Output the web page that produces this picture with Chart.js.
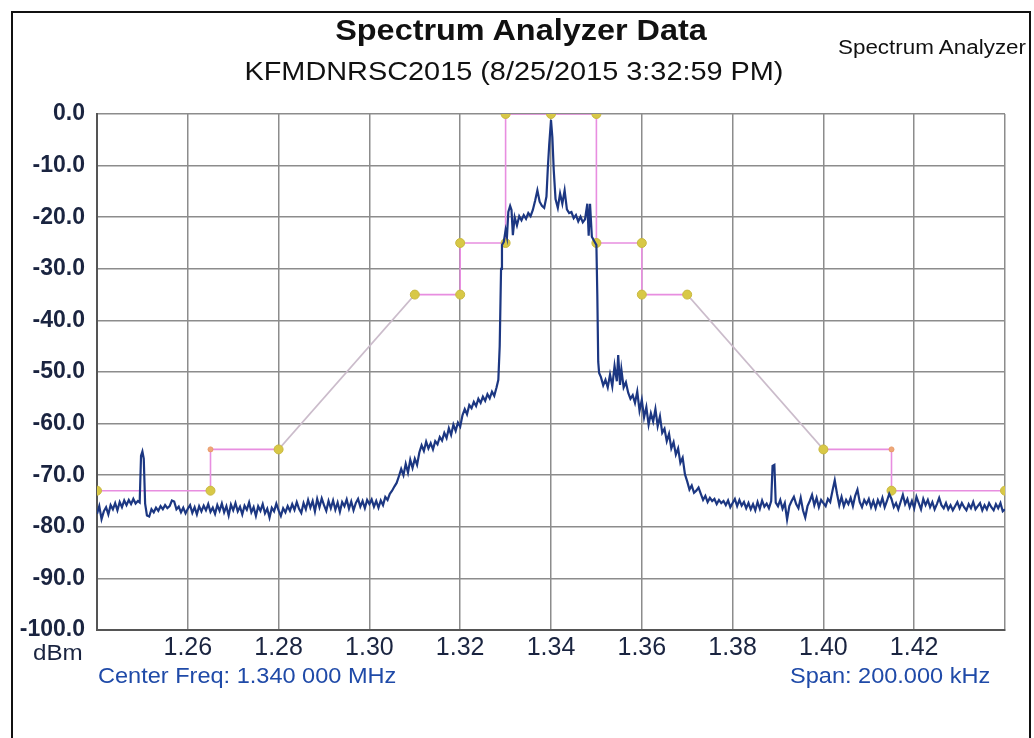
<!DOCTYPE html>
<html>
<head>
<meta charset="utf-8">
<script src="https://cdn.jsdelivr.net/npm/chart.js@4.4.1/dist/chart.umd.min.js"></script>
<style>
  html, body { margin: 0; padding: 0; background: #fff; }
  body { width: 1034px; height: 738px; position: relative; overflow: hidden; font-family: "Liberation Sans", Arial, sans-serif; }
  #frame { position: absolute; left: 11px; top: 11px; width: 1016px; height: 760px; border: 2px solid #111; }
  #wrap { position: absolute; left: 0; top: 0; width: 1034px; height: 738px; }
  .txt { position: absolute; white-space: nowrap; }
  #title { left: 0; width: 1042px; top: 13px; text-align: center; font-size: 30px; font-weight: bold; color: #111; transform: scaleX(1.08); }
  #subtitle { left: 0; width: 1028px; top: 56px; text-align: center; font-size: 26px; color: #111; transform: scaleX(1.11); }
  #corner { left: 838px; top: 36px; font-size: 20px; color: #111; transform: scaleX(1.12); transform-origin: left center; }
  #unit { left: 33px; top: 640px; font-size: 22px; color: #1a2440; transform: scaleX(1.1); transform-origin: left center; }
  #center { left: 98px; top: 663px; font-size: 22px; color: #1f4aa8; transform: scaleX(1.07); transform-origin: left center; }
  #span { left: 790px; top: 663px; font-size: 22px; color: #1f4aa8; transform: scaleX(1.07); transform-origin: left center; }
</style>
</head>
<body>
<div id="frame"></div>
<div id="wrap"><canvas id="chart-spectrum" width="1034" height="738"></canvas></div>
<div class="txt" id="title">Spectrum Analyzer Data</div>
<div class="txt" id="subtitle">KFMDNRSC2015 (8/25/2015 3:32:59 PM)</div>
<div class="txt" id="corner">Spectrum Analyzer</div>
<div class="txt" id="unit">dBm</div>
<div class="txt" id="center">Center Freq: 1.340 000 MHz</div>
<div class="txt" id="span">Span: 200.000 kHz</div>
<script>
// Eixos
const xTickValues = [1.24, 1.26, 1.28, 1.30, 1.32, 1.34, 1.36, 1.38, 1.40, 1.42, 1.44];
const xTickLabels = ['', '1.26', '1.28', '1.30', '1.32', '1.34', '1.36', '1.38', '1.40', '1.42', ''];
const yTickValues = [0, -10, -20, -30, -40, -50, -60, -70, -80, -90, -100];
const yTickLabels = ['0.0', '-10.0', '-20.0', '-30.0', '-40.0', '-50.0', '-60.0', '-70.0', '-80.0', '-90.0', '-100.0'];

// Máscara (limites)
const maskFreq  = [1.24, 1.265, 1.265, 1.28, 1.31, 1.32, 1.32, 1.33, 1.33, 1.34, 1.35, 1.35, 1.36, 1.36, 1.37, 1.40, 1.415, 1.415, 1.44];
const maskLevel = [-73, -73, -65, -65, -35, -35, -25, -25, 0, 0, 0, -25, -25, -35, -35, -65, -65, -73, -73];

// Traço medido (MHz / dBm)
const traceFreq = [
  1.2400, 1.2405, 1.2410, 1.2415, 1.2420, 1.2425, 1.2430, 1.2435, 1.2440, 1.2445,
  1.2450, 1.2455, 1.2460, 1.2465, 1.2470, 1.2475, 1.2480, 1.2485, 1.2490, 1.2494,
  1.2497, 1.2500, 1.2503, 1.2506, 1.2510, 1.2515, 1.2520, 1.2525, 1.2530, 1.2535,
  1.2540, 1.2545, 1.2550, 1.2555, 1.2560, 1.2565, 1.2570, 1.2575, 1.2580, 1.2585,
  1.2590, 1.2595, 1.2600, 1.2605, 1.2610, 1.2615, 1.2620, 1.2625, 1.2630, 1.2635,
  1.2640, 1.2645, 1.2650, 1.2655, 1.2660, 1.2665, 1.2670, 1.2675, 1.2680, 1.2685,
  1.2690, 1.2695, 1.2700, 1.2705, 1.2710, 1.2715, 1.2720, 1.2725, 1.2730, 1.2735,
  1.2740, 1.2745, 1.2750, 1.2755, 1.2760, 1.2765, 1.2770, 1.2775, 1.2780, 1.2785,
  1.2790, 1.2795, 1.2800, 1.2805, 1.2810, 1.2815, 1.2820, 1.2825, 1.2830, 1.2835,
  1.2840, 1.2845, 1.2850, 1.2855, 1.2860, 1.2865, 1.2870, 1.2875, 1.2880, 1.2885,
  1.2890, 1.2895, 1.2900, 1.2905, 1.2910, 1.2915, 1.2920, 1.2925, 1.2930, 1.2935,
  1.2940, 1.2945, 1.2950, 1.2955, 1.2960, 1.2965, 1.2970, 1.2975, 1.2980, 1.2985,
  1.2990, 1.2995, 1.3000, 1.3005, 1.3010, 1.3015, 1.3020, 1.3025, 1.3030, 1.3035,
  1.3040, 1.3045, 1.3050, 1.3055, 1.3060, 1.3065, 1.3070, 1.3075, 1.3080, 1.3085,
  1.3090, 1.3095, 1.3100, 1.3105, 1.3110, 1.3115, 1.3120, 1.3125, 1.3130, 1.3135,
  1.3140, 1.3145, 1.3150, 1.3155, 1.3160, 1.3165, 1.3170, 1.3175, 1.3180, 1.3185,
  1.3190, 1.3195, 1.3200, 1.3205, 1.3210, 1.3215, 1.3220, 1.3225, 1.3230, 1.3235,
  1.3240, 1.3245, 1.3250, 1.3255, 1.3260, 1.3265, 1.3270, 1.3275, 1.3280, 1.3284,
  1.3287, 1.3290, 1.3292, 1.3296, 1.3300, 1.3303, 1.3306, 1.3310, 1.3313, 1.3316,
  1.3320, 1.3325, 1.3330, 1.3335, 1.3340, 1.3345, 1.3350, 1.3355, 1.3360, 1.3365,
  1.3370, 1.3375, 1.3380, 1.3385, 1.3390, 1.3393, 1.3396, 1.3400, 1.3403, 1.3406,
  1.3410, 1.3415, 1.3420, 1.3425, 1.3430, 1.3435, 1.3440, 1.3445, 1.3450, 1.3455,
  1.3460, 1.3465, 1.3470, 1.3475, 1.3480, 1.3483, 1.3486, 1.3490, 1.3495, 1.3500,
  1.3502, 1.3504, 1.3506, 1.3510, 1.3515, 1.3520, 1.3525, 1.3530, 1.3535, 1.3540,
  1.3545, 1.3548, 1.3552, 1.3555, 1.3560, 1.3565, 1.3570, 1.3575, 1.3580, 1.3585,
  1.3590, 1.3595, 1.3600, 1.3605, 1.3610, 1.3615, 1.3620, 1.3625, 1.3630, 1.3635,
  1.3640, 1.3645, 1.3650, 1.3655, 1.3660, 1.3665, 1.3670, 1.3675, 1.3680, 1.3685,
  1.3690, 1.3695, 1.3700, 1.3705, 1.3710, 1.3715, 1.3720, 1.3725, 1.3730, 1.3735,
  1.3740, 1.3745, 1.3750, 1.3755, 1.3760, 1.3765, 1.3770, 1.3775, 1.3780, 1.3785,
  1.3790, 1.3795, 1.3800, 1.3805, 1.3810, 1.3815, 1.3820, 1.3825, 1.3830, 1.3835,
  1.3840, 1.3845, 1.3850, 1.3855, 1.3860, 1.3865, 1.3870, 1.3875, 1.3880, 1.3885,
  1.3888, 1.3892, 1.3895, 1.3900, 1.3905, 1.3910, 1.3915, 1.3920, 1.3925, 1.3930,
  1.3935, 1.3940, 1.3945, 1.3950, 1.3955, 1.3960, 1.3965, 1.3970, 1.3975, 1.3980,
  1.3985, 1.3990, 1.3995, 1.4000, 1.4005, 1.4010, 1.4015, 1.4020, 1.4025, 1.4030,
  1.4035, 1.4040, 1.4045, 1.4050, 1.4055, 1.4060, 1.4065, 1.4070, 1.4075, 1.4080,
  1.4085, 1.4090, 1.4095, 1.4100, 1.4105, 1.4110, 1.4115, 1.4120, 1.4125, 1.4130,
  1.4135, 1.4140, 1.4145, 1.4150, 1.4155, 1.4160, 1.4165, 1.4170, 1.4175, 1.4180,
  1.4185, 1.4190, 1.4195, 1.4200, 1.4205, 1.4210, 1.4215, 1.4220, 1.4225, 1.4230,
  1.4235, 1.4240, 1.4245, 1.4250, 1.4255, 1.4260, 1.4265, 1.4270, 1.4275, 1.4280,
  1.4285, 1.4290, 1.4295, 1.4300, 1.4305, 1.4310, 1.4315, 1.4320, 1.4325, 1.4330,
  1.4335, 1.4340, 1.4345, 1.4350, 1.4355, 1.4360, 1.4365, 1.4370, 1.4375, 1.4380,
  1.4385, 1.4390, 1.4395, 1.4400
];
const traceLevel = [
  -77.5, -76.0, -78.5, -77.0, -76.2, -77.6, -75.8, -76.6, -75.4, -76.8,
  -75.2, -76.2, -74.9, -75.8, -74.8, -75.6, -74.6, -75.5, -75.0, -75.3,
  -66.2, -65.4, -66.8, -75.5, -77.8, -78.0, -76.6, -77.2, -76.3, -76.9,
  -76.0, -76.6, -75.8, -76.4, -76.0, -74.9, -75.1, -76.6, -76.1, -77.2,
  -76.3, -77.4, -76.5, -75.8, -77.3, -76.2, -77.6, -76.0, -77.0, -75.9,
  -76.8, -75.6, -77.1, -76.3, -77.5, -75.8, -76.9, -75.5, -77.2, -76.0,
  -77.8, -75.7, -76.8, -75.4, -77.0, -76.1, -77.6, -75.9, -76.7, -75.3,
  -77.2, -76.2, -77.9, -76.0, -76.9, -75.6, -77.4, -76.5, -78.2, -76.3,
  -77.0, -75.5, -76.8, -77.9, -76.4, -77.2, -76.0, -76.9, -75.6, -76.7,
  -75.2, -76.5, -77.3, -75.4, -76.6, -74.8, -76.3, -75.0, -77.0, -74.6,
  -76.2, -74.5, -75.8, -76.9, -75.0, -76.4, -74.9, -76.7, -75.3, -77.1,
  -75.2, -76.0, -74.7, -76.5, -75.1, -76.8, -75.4, -74.6, -76.1, -75.0,
  -76.4, -74.8, -75.6, -74.7, -76.1, -75.0, -76.3, -74.9, -75.8, -74.2,
  -74.8, -73.6, -73.0, -72.2, -71.5, -70.2, -68.8, -70.0, -67.8, -69.5,
  -67.0, -68.6, -66.8, -68.0, -65.6, -64.2, -65.3, -63.5, -64.8, -63.8,
  -65.0, -63.4, -64.0, -62.6, -63.3, -61.8, -62.8, -60.9, -62.2, -60.2,
  -61.4, -59.8, -60.6, -58.4, -57.2, -58.2, -56.4, -57.0, -55.8, -56.6,
  -55.2, -56.0, -54.8, -55.6, -54.3, -55.1, -53.8, -54.6, -53.0, -51.5,
  -45.0, -30.0, -25.4, -24.8, -22.5, -23.8, -19.0, -17.8, -18.6, -23.5,
  -20.0, -21.6, -19.8, -20.6, -19.6, -20.3, -19.2, -19.8, -18.6, -16.8,
  -14.8, -17.0, -17.8, -18.2, -16.0, -10.5, -6.0, -1.2, -4.5, -10.8,
  -16.5, -18.2, -15.4, -17.4, -14.8, -18.5, -19.2, -19.0, -20.2, -19.6,
  -20.8, -19.9, -21.0, -20.4, -17.4, -23.6, -17.4, -23.8, -24.6, -25.4,
  -35.0, -48.0, -50.2, -51.0, -52.6, -51.5, -53.0, -50.5, -52.8, -48.8,
  -51.8, -46.7, -52.5, -49.5, -53.0, -52.0, -54.0, -55.2, -54.5, -56.0,
  -53.8, -57.5, -55.4, -58.8, -56.8, -60.2, -58.0, -59.6, -57.2, -60.5,
  -58.6, -61.8, -61.0, -63.4, -62.0, -64.8, -63.6, -66.0, -64.8, -67.6,
  -66.6, -69.8, -71.2, -72.8, -72.0, -73.4, -73.0, -72.4, -73.6, -74.8,
  -74.0, -75.2, -74.4, -75.0, -74.6, -75.6, -74.8, -75.4, -75.0, -75.8,
  -74.9, -76.2, -75.4, -74.6, -76.0, -74.8, -75.9, -75.2, -76.4, -75.4,
  -76.6, -75.6, -76.8, -75.2, -76.5, -74.9, -76.1, -75.5, -76.4, -75.0,
  -68.2, -68.0, -75.3, -76.0, -74.8, -76.5, -75.4, -78.6, -76.0, -75.0,
  -74.2, -75.6, -76.4, -74.4, -76.8, -78.2, -76.0, -75.0, -73.8, -75.8,
  -74.4, -76.2, -74.8, -75.4, -76.0, -74.6, -75.2, -73.0, -71.0, -73.6,
  -75.8, -74.2, -76.0, -74.8, -75.6, -74.4, -76.0, -74.0, -72.8, -75.2,
  -76.2, -74.8, -75.6, -74.6, -76.2, -75.0, -76.4, -74.8, -75.8, -74.4,
  -76.2, -75.0, -73.6, -74.6, -76.2, -75.4, -76.6, -75.2, -73.8, -75.6,
  -74.6, -76.2, -75.0, -76.4, -74.2, -75.4, -76.6, -74.6, -75.8, -74.8,
  -76.2, -75.2, -76.6, -75.6, -74.4, -75.8, -76.4, -75.4, -76.6, -75.8,
  -76.8, -76.0, -75.2, -76.4, -75.4, -76.2, -76.8, -75.6, -76.4, -75.2,
  -76.6, -76.0, -75.4, -76.8, -75.8, -76.6, -75.4, -76.2, -76.8, -75.6,
  -76.4, -75.4, -77.0, -76.6
];

const tracePoints = traceFreq.map((f, i) => ({ x: f, y: traceLevel[i] }));
const maskPoints = maskFreq.map((f, i) => ({ x: f, y: maskLevel[i] }));

// pontos intermediários da máscara aparecem menores e alaranjados
function isSmallMarker(i) { return i === 2 || i === 16; }

const ctx = document.getElementById('chart-spectrum');
new Chart(ctx, {
    type: 'line',
    data: {
        datasets: [{
            label: 'Spectrum',
            data: tracePoints,
            borderColor: '#1c3782',
            borderWidth: 2.2,
            pointRadius: 0,
            tension: 0,
            fill: false
        }, {
            label: 'Mask',
            data: maskPoints,
            borderColor: '#e88ee0',
            borderWidth: 1.6,
            pointRadius: function(c) { return isSmallMarker(c.dataIndex) ? 2.5 : 4.5; },
            pointBackgroundColor: function(c) { return isSmallMarker(c.dataIndex) ? '#eea878' : '#d8c846'; },
            pointBorderColor: function(c) { return isSmallMarker(c.dataIndex) ? '#e89a68' : '#c8b840'; },
            pointBorderWidth: 1,
            tension: 0,
            fill: false,
            segment: {
                borderColor: function(c) {
                    const a = c.p0.parsed, b = c.p1.parsed;
                    return (a.x !== b.x && a.y !== b.y) ? '#cbbccb' : undefined;
                }
            }
        }]
    },
    options: {
        responsive: false,
        animation: false,
        layout: {
            padding: { left: 0, top: 114, right: 29, bottom: 76 }
        },
        plugins: {
            legend: { display: false },
            tooltip: { enabled: false }
        },
        scales: {
            x: {
                type: 'linear',
                min: 1.24,
                max: 1.44,
                afterBuildTicks: function(scale) {
                    scale.ticks = xTickValues.map(v => ({ value: v }));
                },
                afterFit: function(scale) { scale.height = 32; },
                ticks: {
                    autoSkip: false,
                    maxRotation: 0,
                    padding: 3,
                    color: '#1a2440',
                    font: { family: 'Liberation Sans', size: 25 },
                    callback: function(value, index) { return xTickLabels[index]; }
                },
                grid: {
                    color: '#8c8c8c',
                    lineWidth: 1.5,
                    drawTicks: false
                },
                border: { color: '#555', width: 2 }
            },
            y: {
                type: 'linear',
                min: -100,
                max: 0,
                afterBuildTicks: function(scale) {
                    scale.ticks = yTickValues.map(v => ({ value: v }));
                },
                afterFit: function(scale) { scale.width = 97; },
                ticks: {
                    autoSkip: false,
                    padding: 12,
                    color: '#1a2440',
                    font: { family: 'Liberation Sans', size: 23, weight: 'bold' },
                    callback: function(value, index) { return yTickLabels[index]; }
                },
                grid: {
                    color: '#8c8c8c',
                    lineWidth: 1.5,
                    drawTicks: false
                },
                border: { color: '#555', width: 2 }
            }
        }
    }
});
</script>
</body>
</html>
